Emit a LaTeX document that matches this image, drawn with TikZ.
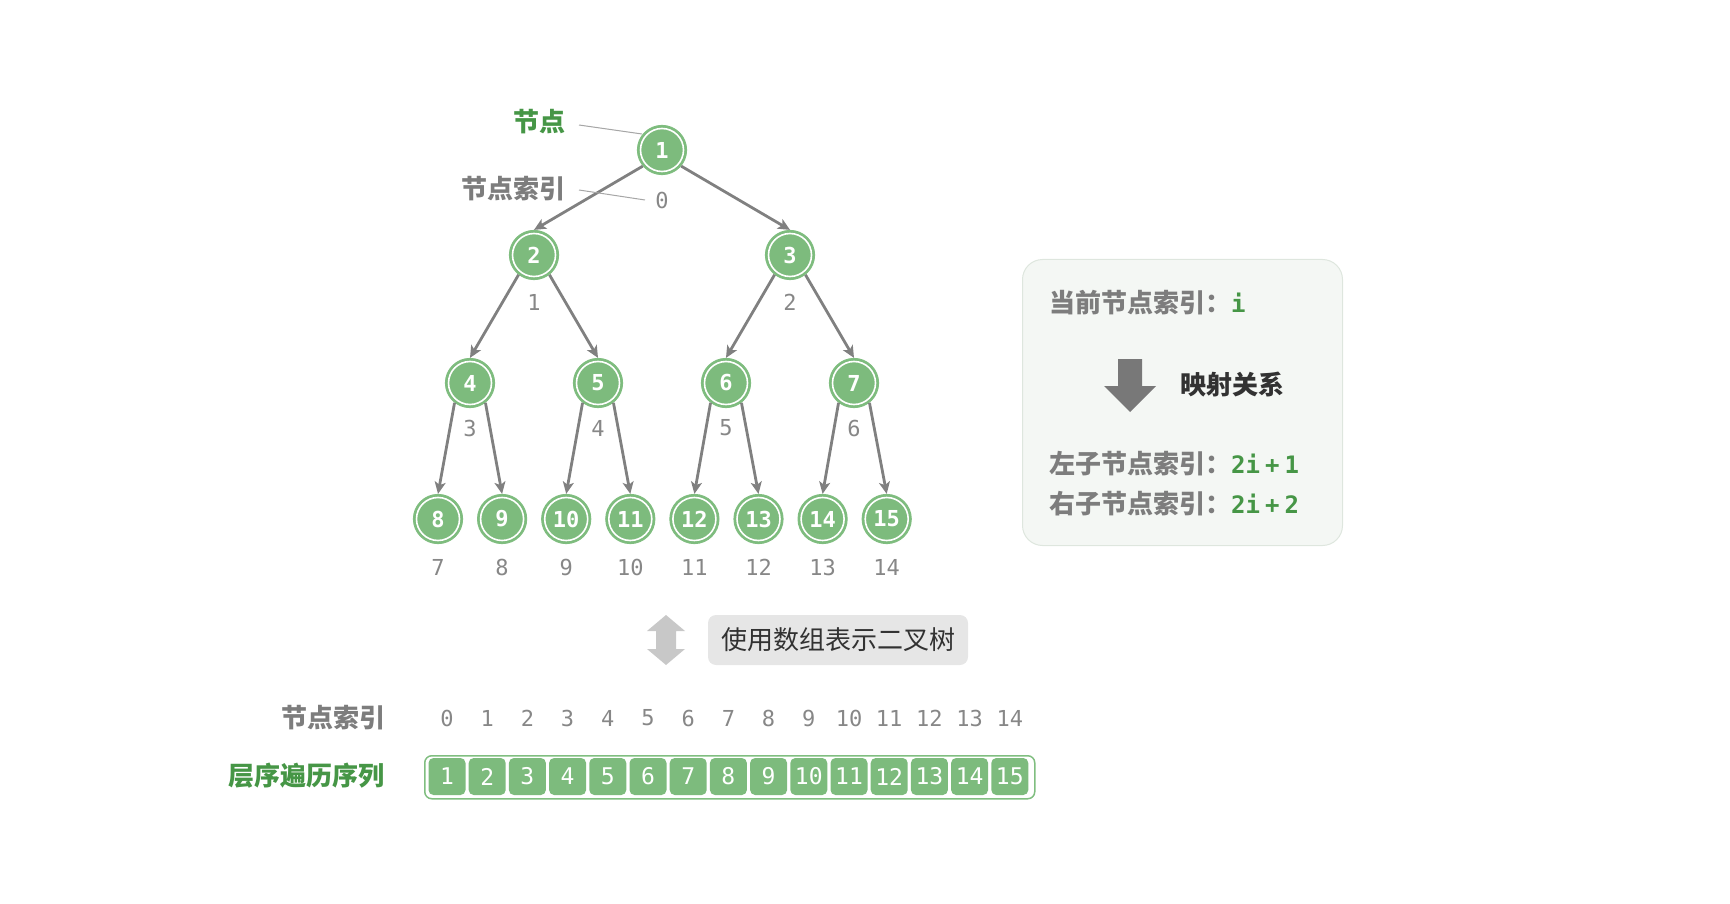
\documentclass[tikz,border=0pt]{standalone}
\usepackage{fontspec}
\setmainfont{Noto Sans CJK SC}
\newfontfamily\cjk{Noto Sans CJK SC}
\newfontfamily\mono{DejaVu Sans Mono}
\usetikzlibrary{arrows.meta}
\definecolor{nodefill}{RGB}{125,187,125}
\definecolor{nodering}{RGB}{128,190,128}
\definecolor{greentext}{RGB}{70,150,70}
\definecolor{edgegray}{RGB}{128,128,128}
\definecolor{idxgray}{RGB}{135,135,135}
\definecolor{labelgray}{RGB}{125,125,125}
\definecolor{boxfill}{RGB}{244,247,244}
\definecolor{boxdraw}{RGB}{222,230,222}
\definecolor{tagfill}{RGB}{230,230,230}
\definecolor{dblarrow}{RGB}{200,200,200}
\definecolor{bigarrow}{RGB}{120,120,120}
\definecolor{darktext}{RGB}{50,50,50}
\tikzset{
  treenode/.style={circle, minimum size=49pt, inner sep=0pt, fill=nodefill, draw=nodering, line width=1.2pt,
    text=white, font=\mono\bfseries\fontsize{22}{26}\selectfont,
    path picture={\draw[white, line width=1.6pt] (path picture bounding box.center) circle (21.5pt);}},
  idx/.style={text=idxgray, font=\mono\fontsize{22}{26}\selectfont, inner sep=0pt},
  edge/.style={draw=edgegray, line width=2.8pt, -{Stealth[length=12pt,width=11pt,inset=3pt]}},
  pointer/.style={draw=edgegray!70, line width=1pt},
  cjklabel/.style={font=\cjk\bfseries\fontsize{26}{30}\selectfont, inner sep=0pt},
  cell/.style={rounded corners=5pt, fill=nodefill, minimum width=37pt, minimum height=37pt, inner sep=0pt,
    text=white, font=\mono\fontsize{23}{26}\selectfont},
}
\newcommand{\gmono}[1]{{\mono\bfseries\fontsize{24}{28}\selectfont\color{greentext}#1}}
\begin{document}
\begin{tikzpicture}[x=1pt,y=-1pt]
\useasboundingbox (0,0) rectangle (1730,904);
% tree nodes
\node[treenode] (n1) at (662,150) {1};
\node[treenode] (n2) at (534,255) {2};
\node[treenode] (n3) at (790,255) {3};
\node[treenode] (n4) at (470,383) {4};
\node[treenode] (n5) at (598,383) {5};
\node[treenode] (n6) at (726,383) {6};
\node[treenode] (n7) at (854,383) {7};
\foreach \k/\v in {0/8,1/9,2/10,3/11,4/12,5/13,6/14,7/15}{
  \node[treenode] (n\v) at ({438+64.1*\k},519) {\v};
}
% index labels
\node[idx] (i0) at (662,200) {0};
\node[idx] (i1) at (534,302) {1};
\node[idx] (i2) at (790,302) {2};
\node[idx] (i3) at (470,428) {3};
\node[idx] (i4) at (598,428) {4};
\node[idx] (i5) at (726,428) {5};
\node[idx] (i6) at (854,428) {6};
\foreach \k/\v in {0/7,1/8,2/9,3/10,4/11,5/12,6/13,7/14}{
  \node[idx] (i\v) at ({438+64.1*\k},567) {\v};
}
% edges
\draw[edge] (n1.-140) -- (n2.north);
\draw[edge] (n1.-40) -- (n3.north);
\draw[edge] (n2.-128) -- (n4.north);
\draw[edge] (n2.-52) -- (n5.north);
\draw[edge] (n3.-128) -- (n6.north);
\draw[edge] (n3.-52) -- (n7.north);
\draw[edge] (n4.-128) -- (n8.north);
\draw[edge] (n4.-52) -- (n9.north);
\draw[edge] (n5.-128) -- (n10.north);
\draw[edge] (n5.-52) -- (n11.north);
\draw[edge] (n6.-128) -- (n12.north);
\draw[edge] (n6.-52) -- (n13.north);
\draw[edge] (n7.-128) -- (n14.north);
\draw[edge] (n7.-52) -- (n15.north);
% pointer labels
\node[cjklabel, text=greentext, anchor=east] (lnode) at (566,122) {节点};
\node[cjklabel, text=labelgray, anchor=east] (lidx) at (566,189) {节点索引};
\coordinate (p1) at (579,125);
\coordinate (p2) at (642,134);
\coordinate (q1) at (579,190);
\coordinate (q2) at (645,200);
\draw[pointer] (p1) -- (p2);
\draw[pointer] (q1) -- (q2);
% right box
\node[draw=boxdraw, fill=boxfill, line width=1pt, rounded corners=20pt, minimum width=320pt, minimum height=286pt, anchor=north west] (box) at (1022,259) {};
\node[cjklabel, text=labelgray, anchor=west] (t1) at (1049,303) {当前节点索引：\gmono{i}};
\fill[bigarrow] (1118,359) -- (1142,359) -- (1142,386) -- (1156,386) -- (1130,412) -- (1104,386) -- (1118,386) -- cycle;
\node[cjklabel, text=darktext] (t2) at (1232,385) {映射关系};
\node[cjklabel, text=labelgray, anchor=west] (t3) at (1049,464) {左子节点索引：\gmono{2i\hspace{5pt}+\hspace{5pt}1}};
\node[cjklabel, text=labelgray, anchor=west] (t4) at (1049,504) {右子节点索引：\gmono{2i\hspace{5pt}+\hspace{5pt}2}};
% double arrow and tag
\fill[dblarrow] (666,615) -- (685,631) -- (676,631) -- (676,649) -- (685,649) -- (666,665) -- (647,649) -- (656,649) -- (656,631) -- (647,631) -- cycle;
\node[fill=tagfill, rounded corners=8pt, minimum width=260pt, minimum height=50pt, text=darktext,
  font=\cjk\fontsize{26}{30}\selectfont] (tag) at (838,640) {使用数组表示二叉树};
% array
\node[cjklabel, text=labelgray, anchor=east] (lrow1) at (386,718) {节点索引};
\node[cjklabel, text=greentext, anchor=east] (lrow2) at (385,776) {层序遍历序列};
\node[draw=nodering, line width=1.5pt, rounded corners=7pt, minimum width=610pt, minimum height=43pt, anchor=north west] (arr) at (424,755) {};
\foreach \k in {0,...,14}{
  \pgfmathtruncatemacro{\v}{\k+1}
  \node[idx] (a\k) at ({447+40.2*\k},718) {\k};
  \node[cell] (c\k) at ({447+40.2*\k},776.5) {\v};
}
\end{tikzpicture}
\end{document}
